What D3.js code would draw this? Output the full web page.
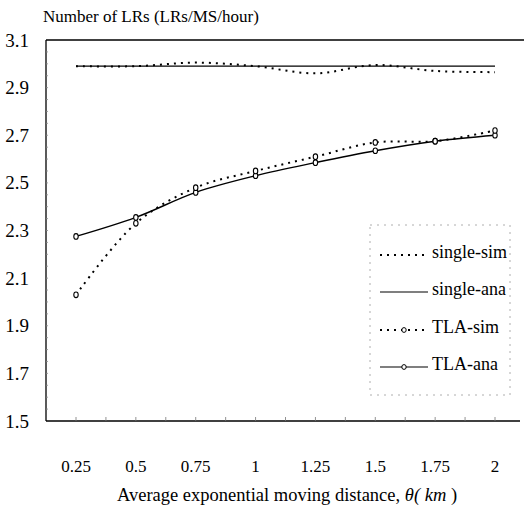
<!DOCTYPE html>
<html>
<head>
<meta charset="utf-8">
<script src="https://cdn.jsdelivr.net/npm/d3@7"></script>
<style>
  html, body { margin: 0; padding: 0; background: #fff; }
</style>
</head>
<body>
<svg id="chart" width="524" height="507"></svg>
<script>
// Data
const X_VALUES   = [0.25, 0.5, 0.75, 1, 1.25, 1.5, 1.75, 2];
const X_LABELS   = ["0.25", "0.5", "0.75", "1", "1.25", "1.5", "1.75", "2"];
const Y_TICKS    = [1.5, 1.7, 1.9, 2.1, 2.3, 2.5, 2.7, 2.9, 3.1];

const singleSim = [2.99, 2.99, 3.005, 2.99, 2.96, 2.995, 2.97, 2.965];
const singleAna = [2.99, 2.99, 2.99, 2.99, 2.99, 2.99, 2.99, 2.99];
const tlaSim    = [2.03, 2.33, 2.48, 2.55, 2.61, 2.67, 2.675, 2.72];
const tlaAna    = [2.275, 2.355, 2.46, 2.53, 2.585, 2.635, 2.675, 2.70];

const SERIES_NAMES = ["single-sim", "single-ana", "TLA-sim", "TLA-ana"];

// Chart setup
const svg = d3.select("#chart");
const MARGIN = { top: 40, right: 4, bottom: 86, left: 46 };
const W = 524, H = 507;
const FONT = '"Liberation Serif"';

const x = d3.scaleLinear().domain([0.25, 2]).range([76, 495]);
const y = d3.scaleLinear().domain([1.5, 3.1]).range([H - MARGIN.bottom, MARGIN.top]);

const line = d3.line()
  .x((d, i) => x(X_VALUES[i]))
  .y(d => y(d))
  .curve(d3.curveCatmullRom.alpha(0.5));

// frame: left, bottom, top
const frame = svg.append("g").attr("stroke", "#000").attr("stroke-width", 1.3);
frame.append("line").attr("x1", MARGIN.left).attr("x2", MARGIN.left)
  .attr("y1", y(3.1)).attr("y2", y(1.5));
frame.append("line").attr("x1", MARGIN.left).attr("x2", 520)
  .attr("y1", y(1.5)).attr("y2", y(1.5));
frame.append("line").attr("x1", MARGIN.left).attr("x2", W)
  .attr("y1", y(3.1)).attr("y2", y(3.1));

// minor ticks
const minorY = d3.range(1.55, 3.1, 0.05);
svg.append("g").selectAll("line").data(minorY).join("line")
  .attr("x1", MARGIN.left).attr("x2", MARGIN.left + 2)
  .attr("y1", d => y(d)).attr("y2", d => y(d))
  .attr("stroke", "#888").attr("stroke-width", 0.8);

const minorX = d3.range(0.25, 2.01, 0.125);
svg.append("g").selectAll("line").data(minorX).join("line")
  .attr("x1", d => x(d)).attr("x2", d => x(d))
  .attr("y1", y(1.5)).attr("y2", y(1.5) - 4)
  .attr("stroke", "#777").attr("stroke-width", 0.8);

// Y tick labels
const yAxis = d3.axisLeft(y).tickValues(Y_TICKS).tickSize(0).tickPadding(17)
  .tickFormat(d3.format(".1f"));
svg.append("g").attr("transform", `translate(${MARGIN.left},0)`)
  .call(yAxis)
  .attr("font-family", null)
  .call(g => g.select(".domain").remove())
  .call(g => g.selectAll("text")
    .style("font-family", FONT)
    .style("font-size", "19px").attr("fill", "#000"));

// X tick labels
svg.append("g").selectAll("text").data(X_VALUES).join("text")
  .attr("x", d => x(d)).attr("y", 472)
  .attr("text-anchor", "middle")
  .style("font-family", FONT)
  .style("font-size", "17px")
  .text((d, i) => X_LABELS[i]);

// Titles
svg.append("text").attr("x", 43).attr("y", 22)
  .style("font-family", FONT)
  .style("font-size", "17px")
  .text("Number of LRs (LRs/MS/hour)");

const xt = svg.append("text").attr("x", 287).attr("y", 501)
  .attr("text-anchor", "middle")
  .style("font-family", FONT).style("font-size", "18.5px");
xt.append("tspan").text("Average exponential moving distance,   ");
xt.append("tspan").style("font-style", "italic").text("θ(");
xt.append("tspan").style("font-style", "italic").text(" km");
xt.append("tspan").text(" )");

// Series
const plot = svg.append("g");

plot.append("path").attr("d", line(singleAna))
  .attr("fill", "none").attr("stroke", "#000").attr("stroke-width", 1.2);
plot.append("path").attr("d", line(singleSim))
  .attr("fill", "none").attr("stroke", "#000").attr("stroke-width", 2)
  .attr("stroke-dasharray", "2 5");

plot.append("path").attr("d", line(tlaAna))
  .attr("fill", "none").attr("stroke", "#000").attr("stroke-width", 1.4);
plot.append("path").attr("d", line(tlaSim))
  .attr("fill", "none").attr("stroke", "#000").attr("stroke-width", 2)
  .attr("stroke-dasharray", "2 5");

[tlaAna, tlaSim].forEach(s => {
  plot.append("g").selectAll("ellipse").data(s).join("ellipse")
    .attr("cx", (d, i) => x(X_VALUES[i])).attr("cy", d => y(d))
    .attr("rx", 2.2).attr("ry", 2.8)
    .attr("fill", "#fff").attr("stroke", "#000").attr("stroke-width", 1.1);
});

// Legend
const lg = svg.append("g");
lg.append("rect").attr("x", 370).attr("y", 225).attr("width", 140).attr("height", 170)
  .attr("fill", "#fff").attr("stroke", "#999").attr("stroke-width", 0.8)
  .attr("stroke-dasharray", "2 5");

const legendRows = [252, 289, 327, 364];
SERIES_NAMES.forEach((name, i) => {
  const yy = legendRows[i];
  const dotted = i % 2 === 0;
  lg.append("line").attr("x1", 380).attr("x2", 428).attr("y1", yy + 3).attr("y2", yy + 3)
    .attr("stroke", "#000").attr("stroke-width", dotted ? 1.8 : 1.2)
    .attr("stroke-dasharray", dotted ? "2 5" : null);
  if (i >= 2) {
    lg.append("ellipse").attr("cx", 404).attr("cy", yy + 3).attr("rx", 2.2).attr("ry", 2.4)
      .attr("fill", "#fff").attr("stroke", "#000").attr("stroke-width", 1);
  }
  lg.append("text").attr("x", 432).attr("y", yy + 6)
    .style("font-family", FONT)
    .style("font-size", "18px").text(name);
});
</script>
</body>
</html>
